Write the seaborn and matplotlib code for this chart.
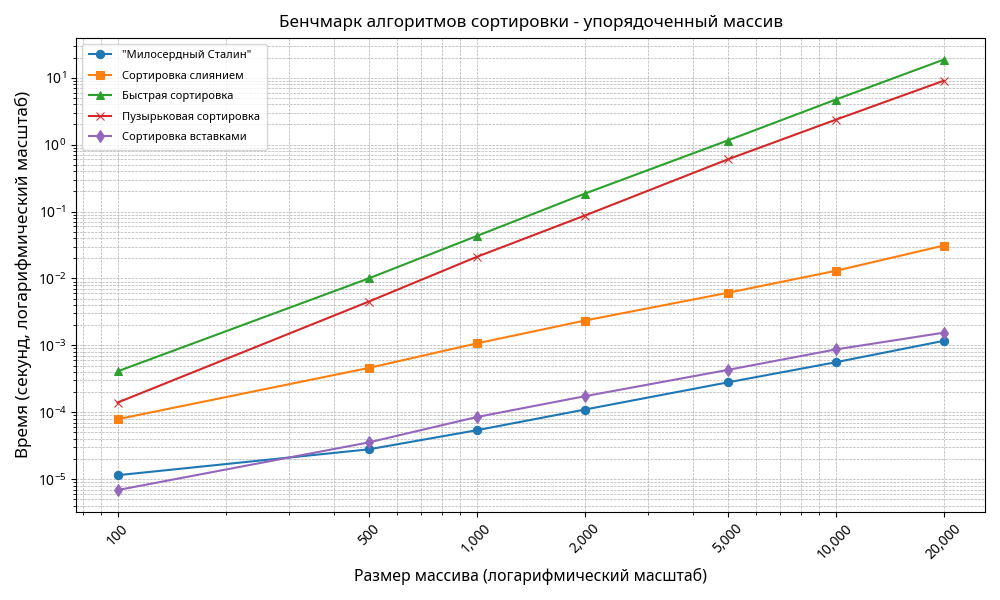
#!/usr/bin/env python3
from matplotlib import pyplot as plt
from matplotlib.ticker import FixedLocator, FuncFormatter
import seaborn as sns

# array sizes and timings (seconds)
sizes = [100, 500, 1000, 2000, 5000, 10000, 20000]
stalin_sort = [1.15e-5, 2.8e-5, 5.4e-5, 1.1e-4, 2.8e-4, 5.6e-4, 1.17e-3]
merge_sort = [7.9e-5, 4.6e-4, 1.07e-3, 2.35e-3, 6.1e-3, 1.3e-2, 3.1e-2]
quick_sort = [4.1e-4, 1.0e-2, 4.3e-2, 0.185, 1.15, 4.7, 18.6]
bubble_sort = [1.4e-4, 4.5e-3, 2.1e-2, 8.7e-2, 0.60, 2.35, 9.0]
insertion_sort = [6.9e-6, 3.55e-5, 8.5e-5, 1.74e-4, 4.3e-4, 8.7e-4, 1.55e-3]

series = [
    ('"Милосердный Сталин"', stalin_sort, 'o', '#1f77b4'),
    ('Сортировка слиянием', merge_sort, 's', '#ff7f0e'),
    ('Быстрая сортировка', quick_sort, '^', '#2ca02c'),
    ('Пузырьковая сортировка', bubble_sort, 'x', '#d62728'),
    ('Сортировка вставками', insertion_sort, 'd', '#9467bd'),
]

plt.rcParams['font.family'] = ['Noto Sans', 'DejaVu Sans']

fig, ax = plt.subplots(figsize=(10, 6), dpi=100)

for name, vals, mk, col in series:
    sns.lineplot(x=sizes, y=vals, marker=mk, label=name, color=col,
                 linewidth=1.5, markersize=6, markeredgecolor=col, ax=ax)

ax.set_xscale('log')
ax.set_yscale('log')
ax.xaxis.set_major_locator(FixedLocator(sizes))
ax.xaxis.set_major_formatter(FuncFormatter(lambda v, p: f"{int(v):,}"))
plt.setp(ax.get_xticklabels(), rotation=45)

ax.grid(True, which='both', linestyle='--', linewidth=0.5, color='#b0b0b0')

ax.set_title('Бенчмарк алгоритмов сортировки - упорядоченный массив', fontsize=12.3, pad=8)
ax.set_xlabel('Размер массива (логарифмический масштаб)', fontsize=11.4)
ax.set_ylabel('Время (секунд, логарифмический масштаб)', fontsize=12.3)
ax.legend(loc='upper left', fontsize=8, labelspacing=0.85, handletextpad=1.0,
          borderpad=0.6)

plt.tight_layout()
plt.savefig('out.png')
